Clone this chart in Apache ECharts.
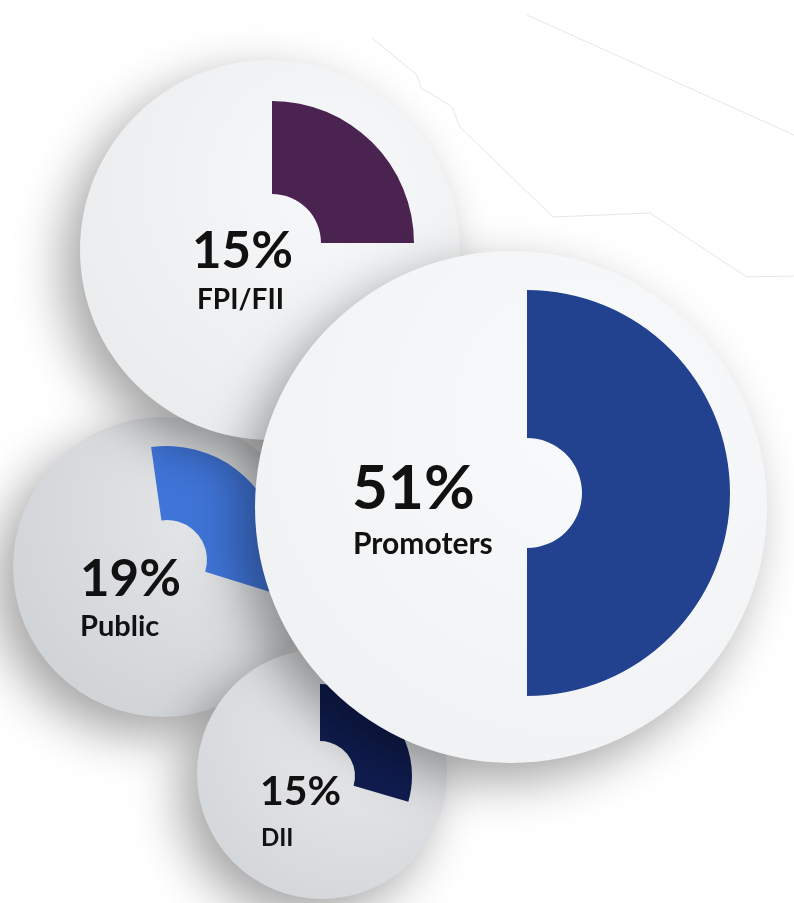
<!DOCTYPE html>
<html>
<head>
<meta charset="utf-8">
<script src="https://cdn.jsdelivr.net/npm/echarts@6/dist/echarts.min.js"></script>
<style>
  html, body { margin: 0; padding: 0; background: #ffffff; }
  #chart { width: 794px; height: 903px; }
</style>
</head>
<body>
<div id="chart"></div>
<script>
// ---- data ----
const categories   = ['Public', 'DII', 'FPI/FII', 'Promoters'];
const shareValues  = [19, 15, 15, 51];          // printed percentages
const arcShares    = [32, 29.5, 25, 50];        // share of a full turn each wedge covers as drawn
const arcStart     = [98, 90, 90, 90];          // start angle of each wedge (degrees)

// ---- layout & styles (not data) ----
const layout = [
  { disc: [163, 567, 150], wedge: [167, 560], radius: [40, 114],
    pct: [80, 580, 51], name: [80, 627, 29],
    discColors: ['#e4e6e8', '#cfd2d5'], color: '#3f74d8' },
  { disc: [322, 774, 125], wedge: [320, 776], radius: [35, 92],
    pct: [260, 792, 41], name: [261, 838, 24],
    discColors: ['#e8e9eb', '#d3d6d9'], color: '#0f1c4f' },
  { disc: [270, 250, 190], wedge: [272, 243], radius: [49, 142],
    pct: [192, 252, 51], name: [197, 300, 28],
    discColors: ['#f7f8f9', '#e9ebed'], color: '#4a2351' },
  { disc: [511, 507, 256], wedge: [527, 493], radius: [55, 203],
    pct: [352, 489, 62], name: [353, 544, 30],
    discColors: ['#f9fafb', '#f0f1f3'], color: '#22428f' }
];

const chart = echarts.init(document.getElementById('chart'));

const graphics = [];
// faint sketch lines in top right
graphics.push({
  type: 'polyline', z: 0, silent: true,
  shape: { points: [[372,38],[417,75],[421,88],[438,98],[452,107],[460,127],[553,217],[650,213],[733,268],[747,277],[794,276]] },
  style: { stroke: '#e6e6e6', lineWidth: 1, fill: null }
});
graphics.push({
  type: 'polyline', z: 0, silent: true,
  shape: { points: [[527,15],[794,135]] },
  style: { stroke: '#e6e6e6', lineWidth: 1, fill: null }
});

const series = [];
categories.forEach((name, i) => {
  const L = layout[i];
  const zBase = 1 + i * 3;
  graphics.push({
    type: 'circle', z: zBase, silent: true,
    shape: { cx: L.disc[0], cy: L.disc[1], r: L.disc[2] },
    style: {
      fill: new echarts.graphic.RadialGradient(0.65, 0.32, 0.8, [
        { offset: 0, color: L.discColors[0] },
        { offset: 1, color: L.discColors[1] }
      ]),
      shadowBlur: 50, shadowColor: 'rgba(0,0,0,0.36)',
      shadowOffsetX: -16, shadowOffsetY: 18
    }
  });
  series.push({
    type: 'pie', name: name, z: zBase + 1, silent: true,
    center: [L.wedge[0], L.wedge[1]],
    radius: L.radius,
    startAngle: arcStart[i], clockwise: true,
    avoidLabelOverlap: false,
    label: { show: false }, labelLine: { show: false },
    emphasis: { disabled: true },
    animation: false,
    data: [
      { name: name, value: arcShares[i], itemStyle: { color: L.color } },
      { name: '', value: 100 - arcShares[i], itemStyle: { color: 'rgba(0,0,0,0)' } }
    ]
  });
  graphics.push({
    type: 'text', z: zBase + 2, silent: true,
    style: {
      text: shareValues[i] + '%', x: L.pct[0], y: L.pct[1],
      font: 'bold ' + L.pct[2] + 'px Lato', fill: '#111111',
      align: 'left', verticalAlign: 'middle'
    }
  });
  graphics.push({
    type: 'text', z: zBase + 2, silent: true,
    style: {
      text: name, x: L.name[0], y: L.name[1],
      font: 'bold ' + L.name[2] + 'px Lato', fill: '#111111',
      align: 'left', verticalAlign: 'middle'
    }
  });
});

chart.setOption({
  backgroundColor: '#ffffff',
  animation: false,
  graphic: { elements: graphics },
  series: series
});
</script>
</body>
</html>
